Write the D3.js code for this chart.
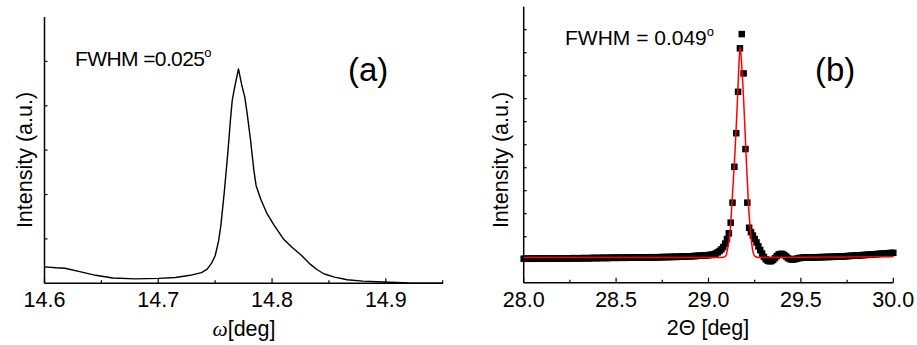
<!DOCTYPE html>
<html>
<head>
<meta charset="utf-8">
<script src="https://cdn.jsdelivr.net/npm/d3@7"></script>
<style>
  body { margin: 0; background: #fff; }
  svg { display: block; font-family: "Liberation Sans", Arial, sans-serif; }
</style>
</head>
<body>
<svg id="chart" width="917" height="345"></svg>
<script>
// panel (a): omega rocking curve
const omega = [14.600, 14.610, 14.618, 14.630, 14.645, 14.660, 14.680, 14.700, 14.715, 14.728,
  14.738, 14.743, 14.747, 14.750, 14.753, 14.755, 14.758, 14.761, 14.7635, 14.765,
  14.767, 14.7705, 14.7735, 14.776, 14.778, 14.781, 14.784, 14.786, 14.790, 14.795,
  14.802, 14.810, 14.818, 14.825, 14.829, 14.834, 14.840, 14.846, 14.855, 14.866,
  14.880, 14.898, 14.920, 14.950];
const omegaI = [0.37, 0.35, 0.34, 0.27, 0.18, 0.12, 0.10, 0.11, 0.13, 0.18,
  0.24, 0.32, 0.46, 0.62, 0.95, 1.30, 2.05, 2.90, 3.70, 4.12,
  4.40, 4.83, 4.45, 4.20, 3.85, 3.25, 2.55, 2.20, 1.90, 1.60,
  1.30, 1.00, 0.80, 0.65, 0.55, 0.42, 0.30, 0.21, 0.14, 0.08,
  0.05, 0.03, 0.01, 0.00];
const omegaTicks = [14.6, 14.7, 14.8, 14.9];

// panel (b): 2theta scan, measured points every 0.01 deg from 28.00 to 30.00
const thetaI = [
  1.04, 1.05, 1.04, 1.04, 1.05, 1.04, 1.05, 1.05, 1.04, 1.05,
  1.05, 1.04, 1.05, 1.05, 1.06, 1.05, 1.05, 1.06, 1.05, 1.05,
  1.06, 1.05, 1.06, 1.06, 1.05, 1.06, 1.06, 1.07, 1.06, 1.06,
  1.06, 1.07, 1.06, 1.07, 1.07, 1.06, 1.07, 1.07, 1.08, 1.07,
  1.07, 1.08, 1.07, 1.08, 1.08, 1.07, 1.08, 1.08, 1.09, 1.08,
  1.08, 1.09, 1.08, 1.09, 1.09, 1.08, 1.09, 1.09, 1.10, 1.09,
  1.09, 1.10, 1.09, 1.10, 1.10, 1.09, 1.10, 1.10, 1.11, 1.10,
  1.10, 1.11, 1.10, 1.11, 1.11, 1.11, 1.12, 1.11, 1.12, 1.12,
  1.12, 1.12, 1.13, 1.12, 1.13, 1.13, 1.14, 1.13, 1.14, 1.15,
  1.15, 1.15, 1.16, 1.16, 1.17, 1.17, 1.18, 1.18, 1.19, 1.19,
  1.20, 1.21, 1.22, 1.24, 1.27, 1.32, 1.38, 1.45, 1.55, 1.70,
  1.90, 2.15, 2.61, 3.48, 5.04, 6.50, 8.30, 10.19, 10.81, 9.10,
  5.81, 3.48, 2.39, 2.20, 2.05, 1.90, 1.75, 1.58, 1.42, 1.27,
  1.12, 1.02, 0.96, 0.93, 0.94, 0.99, 1.07, 1.16, 1.23, 1.25,
  1.25, 1.20, 1.14, 1.07, 1.03, 1.01, 1.01, 1.03, 1.05, 1.07,
  1.08, 1.09, 1.10, 1.10, 1.09, 1.09, 1.10, 1.10, 1.11, 1.10,
  1.11, 1.11, 1.12, 1.11, 1.12, 1.12, 1.13, 1.12, 1.13, 1.13,
  1.14, 1.14, 1.15, 1.14, 1.15, 1.16, 1.16, 1.17, 1.17, 1.18,
  1.18, 1.19, 1.19, 1.20, 1.20, 1.21, 1.21, 1.22, 1.23, 1.23,
  1.24, 1.24, 1.25, 1.26, 1.26, 1.27, 1.27, 1.28, 1.29, 1.29,
  1.30];
const theta = d3.range(thetaI.length).map(i => 28 + i * 0.01);

// red fit curve
const fitX = [28.00, 28.50, 29.00, 29.05, 29.08, 29.095, 29.102, 29.116, 29.128, 29.143,
  29.156, 29.165, 29.171, 29.179, 29.191, 29.203, 29.215, 29.228, 29.239, 29.251,
  29.27, 29.50, 30.00];
const fitI = [1.10, 1.10, 1.10, 1.10, 1.11, 1.18, 1.42, 2.15, 3.60, 5.63,
  7.80, 9.54, 10.26, 9.54, 7.80, 5.63, 3.60, 2.15, 1.42, 1.15,
  1.10, 1.11, 1.13];
const thetaTicks = [28.0, 28.5, 29.0, 29.5, 30.0];

const svg = d3.select("#chart");

function drawFrame(x, y, xTicks, xMinor, yTicks, fmt) {
  const g = svg.append("g");
  const [x0, x1] = x.range();
  const [yb, yt] = y.range();
  // axes lines
  g.append("line").attr("x1", x0).attr("x2", x0).attr("y1", yb).attr("y2", yt)
    .attr("stroke", "#000").attr("stroke-width", 1.5);
  g.append("line").attr("x1", x0).attr("x2", x1).attr("y1", yb).attr("y2", yb)
    .attr("stroke", "#000").attr("stroke-width", 1.5);
  // x ticks, inward
  g.selectAll(".xmaj").data(xTicks).join("line")
    .attr("x1", d => x(d)).attr("x2", d => x(d))
    .attr("y1", yb).attr("y2", yb - 5)
    .attr("stroke", "#000").attr("stroke-width", 1.2);
  g.selectAll(".xmin").data(xMinor).join("line")
    .attr("x1", d => x(d)).attr("x2", d => x(d))
    .attr("y1", yb).attr("y2", yb - 3)
    .attr("stroke", "#000").attr("stroke-width", 1.2);
  g.selectAll(".ytk").data(yTicks).join("line")
    .attr("x1", x0).attr("x2", x0 + 3)
    .attr("y1", d => y(d)).attr("y2", d => y(d))
    .attr("stroke", "#000").attr("stroke-width", 1.2);
  g.selectAll(".xlab").data(xTicks).join("text")
    .attr("x", d => x(d)).attr("y", yb + 24)
    .attr("text-anchor", "middle").attr("font-size", 21.5)
    .text(fmt);
  return g;
}

// ---- panel (a)
const xa = d3.scaleLinear().domain([14.6, 14.95]).range([44.5, 442.7]);
const ya = d3.scaleLinear().domain([0, 6]).range([283.3, 17]);
drawFrame(xa, ya, omegaTicks, [14.65, 14.75, 14.85, 14.95], [1, 2, 3, 4, 5], d3.format(".1f"));

svg.append("path")
  .datum(omega.map((d, i) => [d, omegaI[i]]))
  .attr("fill", "none").attr("stroke", "#000").attr("stroke-width", 1.4)
  .attr("stroke-linejoin", "round")
  .attr("d", d3.line().x(d => xa(d[0])).y(d => ya(d[1])));

svg.append("text").attr("x", 75).attr("y", 66).attr("font-size", 21).attr("letter-spacing", -0.6)
  .text("FWHM =0.025")
  .append("tspan").attr("font-size", 13).attr("dy", -9).text("o");
svg.append("text").attr("x", 348).attr("y", 81).attr("font-size", 33).text("(a)");
svg.append("text").attr("transform", "translate(32,160) rotate(-90)")
  .attr("text-anchor", "middle").attr("font-size", 21.5).text("Intensity (a.u.)");
const ta = svg.append("text").attr("x", 244).attr("y", 336).attr("text-anchor", "middle").attr("font-size", 21.5);
ta.append("tspan").attr("font-family", "Liberation Serif, serif").attr("font-style", "italic").text("ω");
ta.append("tspan").text("[deg]");

// ---- panel (b)
const xb = d3.scaleLinear().domain([28, 30]).range([523.7, 893.3]);
const yb = d3.scaleLinear().domain([0, 12]).range([282.7, 6.7]);
drawFrame(xb, yb, thetaTicks, [28.25, 28.75, 29.25, 29.75], d3.range(1, 12), d3.format(".1f"));

const sq = 6.5;
svg.append("g").selectAll("rect")
  .data(theta.map((d, i) => [d, thetaI[i]]))
  .join("rect")
  .attr("x", d => xb(d[0]) - sq / 2).attr("y", d => yb(d[1]) - sq / 2)
  .attr("width", sq).attr("height", sq).attr("fill", "#000");

svg.append("path")
  .datum(fitX.map((d, i) => [d, fitI[i]]))
  .attr("fill", "none").attr("stroke", "#ff0000").attr("stroke-width", 1.5)
  .attr("d", d3.line().curve(d3.curveMonotoneX).x(d => xb(d[0])).y(d => yb(d[1])));

svg.append("text").attr("x", 565).attr("y", 45).attr("font-size", 21)
  .text("FWHM = 0.049")
  .append("tspan").attr("font-size", 13).attr("dy", -9).text("o");
svg.append("text").attr("x", 815).attr("y", 81).attr("font-size", 33).text("(b)");
svg.append("text").attr("transform", "translate(508,160) rotate(-90)")
  .attr("text-anchor", "middle").attr("font-size", 21.5).text("Intensity (a.u.)");
svg.append("text").attr("x", 708).attr("y", 335).attr("text-anchor", "middle").attr("font-size", 21.5)
  .text("2Θ [deg]");
</script>
</body>
</html>
